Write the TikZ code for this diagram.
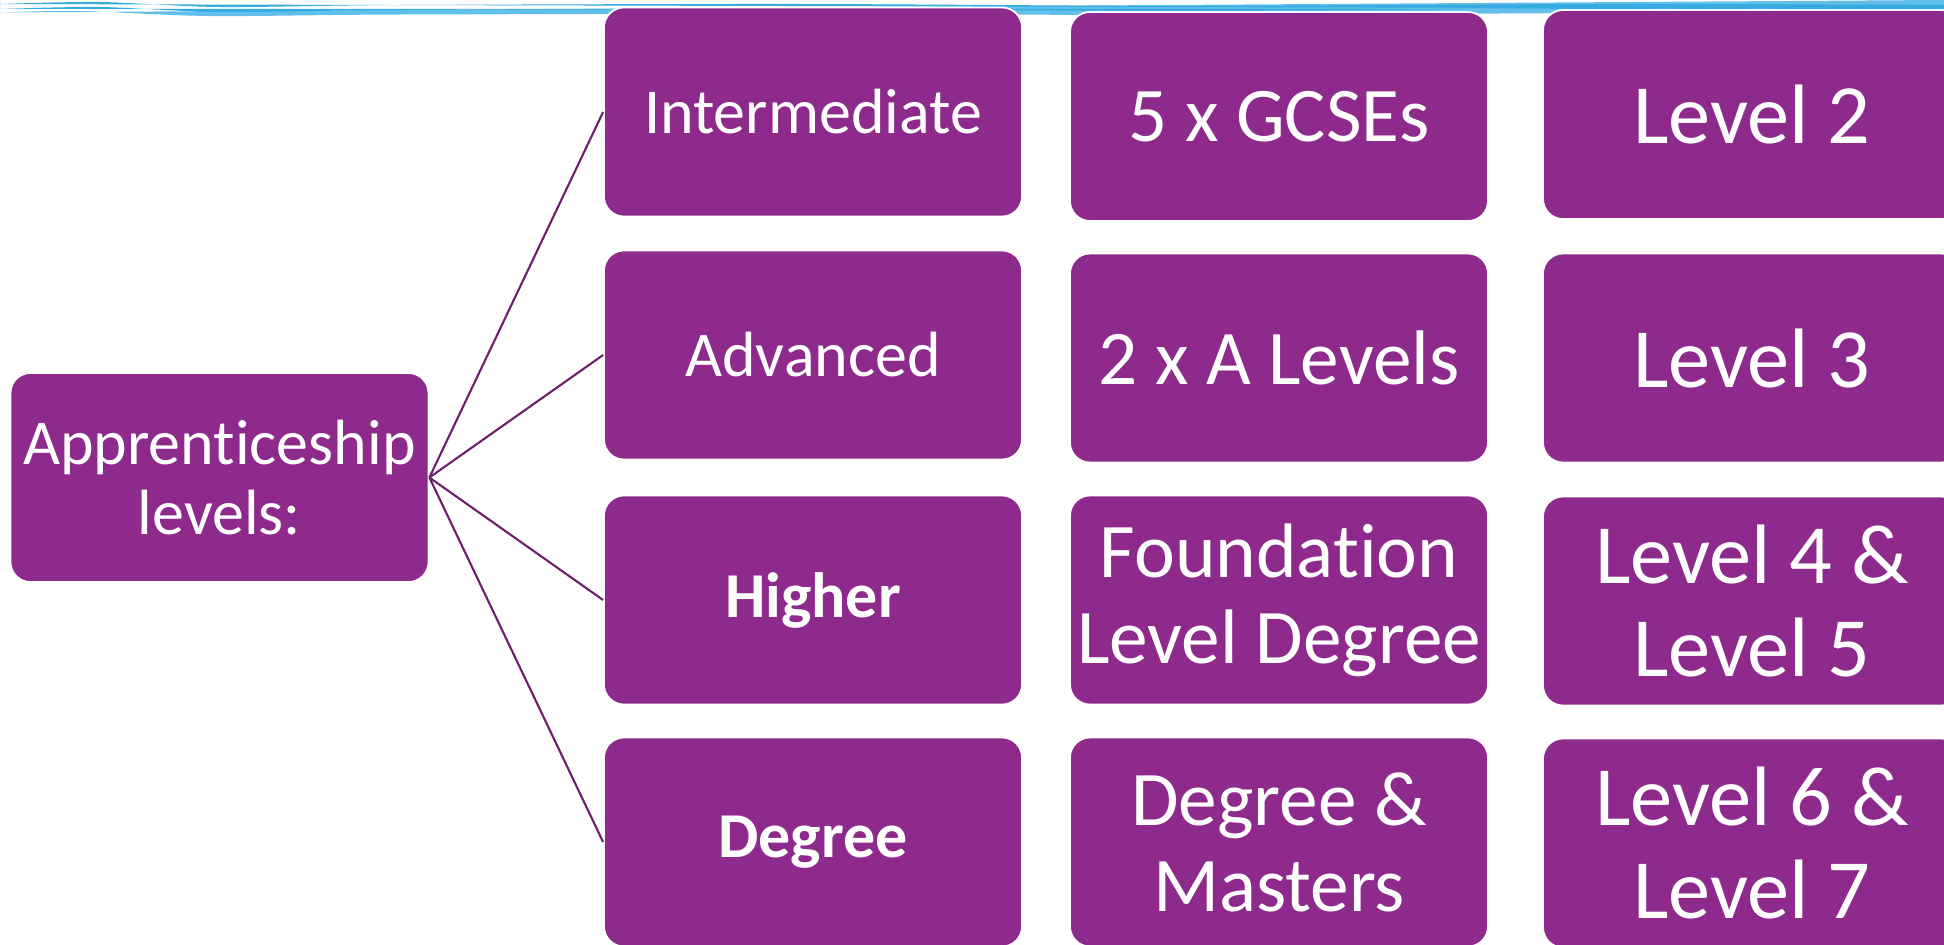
\documentclass[tikz,border=0pt]{standalone}
\usepackage{fontspec}
\setmainfont{Carlito}[Ligatures={NoCommon}]
\usepackage{tikz}

\definecolor{boxpurple}{HTML}{8E2A8B}
\definecolor{linkpurple}{HTML}{6E1F6C}
\definecolor{wavelight}{HTML}{62BFEA}
\definecolor{wavedark}{HTML}{36ABE0}

\tikzset{
  levelbox/.style={rectangle, rounded corners=0.2cm, fill=boxpurple, draw=white,
    line width=0.5pt, text=white, align=center, inner sep=0pt,
    minimum width=4.18cm, minimum height=2.09cm},
  rootfont/.style={font=\fontsize{18.2}{19.9}\selectfont},
  routefont/.style={font=\fontsize{18.2}{19.9}\selectfont},
  equivfont/.style={font=\fontsize{22}{24.5}\selectfont},
  gradefont/.style={font=\fontsize{24}{26.7}\selectfont},
  linkline/.style={draw=linkpurple, line width=0.6pt}
}

\begin{document}
\begin{tikzpicture}[x=1cm, y=-1cm]
  \useasboundingbox (0,0) rectangle (19.44,9.44);
  \clip (0,0) rectangle (19.44,9.44);

  % Wavy band along the top edge
  \fill[wavelight] (0,0) -- (0,0.125) plot[smooth] coordinates {(0,0.125) (0.8,0.11) (2.1,0.16) (4,0.145) (8,0.14) (12,0.15) (16,0.13) (19.44,0.125)} -- (19.44,0) -- cycle;
  \fill[wavedark] plot[smooth] coordinates {(0,0.04) (1,0.02) (2.2,0.07) (4,0.05) (8,0.04) (12,0.06) (16,0.04) (19.44,0.05)} -- (19.44,0.09) plot[smooth] coordinates {(19.44,0.09) (16,0.08) (12,0.11) (8,0.09) (4,0.10) (2.2,0.12) (1,0.07) (0,0.09)} -- cycle;

  % Root box
  \node[levelbox, rootfont] (appr) at (2.195,4.775) {Apprenticeship\\levels:};

  % Apprenticeship routes, linked to the root
  \foreach \i/\y/\txt in {1/1.12/Intermediate, 2/3.55/Advanced, 3/6.00/\textbf{Higher}, 4/8.42/\textbf{Degree}} {
    \node[levelbox, routefont] (route\i) at (8.13,\y) {\txt};
    \draw[linkline] (appr.east) -- (route\i.west);
  }

  % Equivalent qualifications
  \foreach \i/\y/\txt in {1/1.165/5 x GCSEs, 2/3.58/2 x A Levels, 3/6.00/{Foundation\\Level Degree}, 4/8.42/{Degree \&\\Masters}} {
    \node[levelbox, equivfont] (equiv\i) at (12.79,\y) {\txt};
  }

  % Qualification levels (cut off at the right edge)
  \foreach \i/\y/\txt in {1/1.145/Level 2, 2/3.58/Level 3, 3/6.01/{Level 4 \&\\Level 5}, 4/8.43/{Level 6 \&\\Level 7}} {
    \node[levelbox, gradefont] (grade\i) at (17.52,\y) {\txt};
  }

\end{tikzpicture}
\end{document}
